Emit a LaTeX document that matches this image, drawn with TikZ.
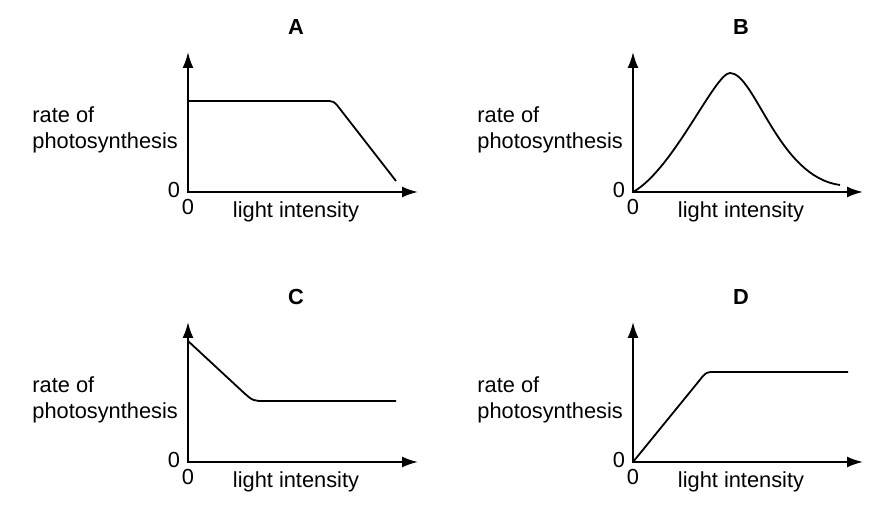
\documentclass[tikz,border=0pt]{standalone}
\usepackage{fontspec}
\setmainfont{Liberation Sans}
\usetikzlibrary{arrows.meta}

\begin{document}
\begin{tikzpicture}[x=0.5pt,y=0.5pt,
axis/.style={line width=1pt,{Latex[length=8pt,width=5.5pt]}-{Latex[length=8pt,width=5.5pt]}},
curve/.style={line width=0.9pt,line join=round}]
\tikzstyle{every node}=[inner sep=0pt,font=\fontsize{10.9}{13}\selectfont]
\useasboundingbox (0,0) rectangle (879,507);
% axes and labels of the four graphs
\foreach \name/\x/\y in {A/188/315,B/633/315,C/188/45,D/633/45}{
\begin{scope}[shift={(\x,\y)}]
\coordinate (\name o) at (0,0);
\coordinate (\name y) at (0,140);
\coordinate (\name x) at (230,0);
\draw[axis] (\name y) -- (\name o) -- (\name x);
\node[font=\fontsize{10.9}{13}\selectfont\bfseries] (\name title) at (108,165) {\name};
\node[anchor=west,align=left] (\name rate) at (-156,62) {rate of\\photosynthesis};
\node[anchor=base] (\name zeroy) at (-14,-6) {0};
\node[anchor=base] (\name zerox) at (0,-23) {0};
\node[anchor=base] (\name light) at (108,-26) {light intensity};
\end{scope}
}
% A
\begin{scope}[shift={(188,315)}]
\draw[curve] (0,91) -- (136,91) .. controls (146,91) .. (152,83) -- (208,11);
\end{scope}
% B
\begin{scope}[shift={(633,315)}]
\draw[curve] (0,0) .. controls (40,22) and (82,119) .. (97,119)
  .. controls (122,119) and (145,15) .. (207,7);
\end{scope}
% C
\begin{scope}[shift={(188,45)}]
\draw[curve] (0,121) -- (55,70) .. controls (65,61) .. (77,61) -- (208,61);
\end{scope}
% D
\begin{scope}[shift={(633,45)}]
\draw[curve] (0,0) -- (66,81) .. controls (73,90) .. (82,90) -- (215,90);
\end{scope}
\end{tikzpicture}
\end{document}
